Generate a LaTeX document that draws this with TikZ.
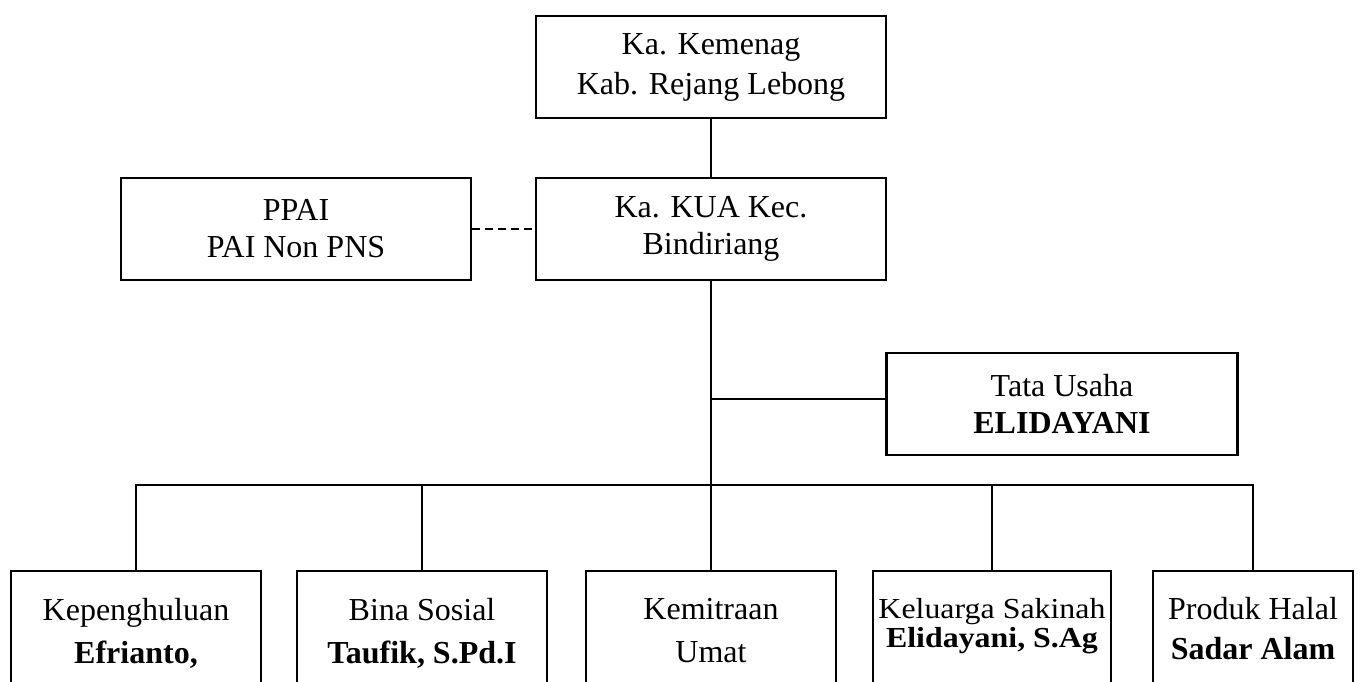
\documentclass[tikz,border=0pt]{standalone}
\usepackage{fontspec}
\setmainfont{Liberation Serif}
\newfontfamily\wideserif[FakeStretch=1.1]{Liberation Serif}

\begin{document}
\begin{tikzpicture}[x=1pt,y=-1pt,
  box/.style={draw,line width=2.2pt,minimum width=350pt,minimum height=102pt,align=center,inner sep=0pt,font={\fontsize{32}{37}\selectfont}},
  unit/.style={draw,line width=2.2pt,anchor=north,align=center,inner xsep=0pt,inner ysep=27pt,text depth=100pt,font={\fontsize{32}{43}\selectfont}},
  link/.style={line width=1.7pt}]
\useasboundingbox (0,0) rectangle (1372,681);

\node[box,font={\fontsize{32}{40}\selectfont}] (kemenag) at (711,67) {Ka. Kemenag\\Kab. Rejang Lebong};
\node[box] (ppai) at (296,229) {PPAI\\PAI Non PNS};
\node[box] (kua) at (711,229) {Ka. KUA Kec.\\Bindiriang};
\node[box,minimum width=351pt] (tata) at (1062,404) {Tata Usaha\\\textbf{ELIDAYANI}};

% seksi
\node[unit,minimum width=250pt] (penghulu) at (136,570) {Kepenghuluan\\\textbf{Efrianto,}};
\node[unit,minimum width=250pt] (sosial) at (422,570) {Bina Sosial\\\textbf{Taufik, S.Pd.I}};
\node[unit,minimum width=250pt] (mitra) at (711,570) {Kemitraan\\Umat};
\node[unit,minimum width=238pt,font={\wideserif\fontsize{29}{29}\selectfont}] (sakinah) at (992,570) {Keluarga Sakinah\\\textbf{Elidayani, S.Ag}};
\node[unit,minimum width=200pt,inner ysep=26pt,font={\fontsize{32}{40}\selectfont}] (halal) at (1253,570) {Produk Halal\\\textbf{Sadar Alam}};

\coordinate (hub) at (kua.south |- 0,485);

\draw[link] (kemenag) -- (kua);
\draw[link] (kua) -- (hub);
\draw[link] ([yshift=5pt]tata.west) -- ([yshift=5pt]tata.west -| hub);
\draw[link,dash pattern=on 8pt off 5pt] (ppai) -- (kua);
\draw[link] (penghulu.north) |- (hub) -| (halal.north);
\foreach \u in {sosial,mitra,sakinah}
  \draw[link] (\u.north) -- (\u.north |- hub);

\end{tikzpicture}
\end{document}
